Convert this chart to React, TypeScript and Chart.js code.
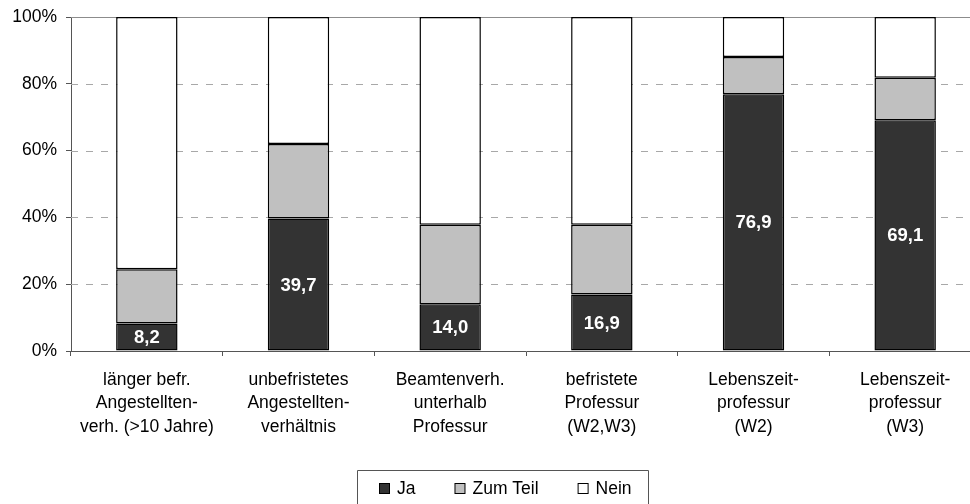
import React, { useEffect, useRef } from "react";
import { Chart, registerables } from "chart.js";

Chart.register(...registerables);

const categories: string[][] = [
  ["länger befr.", "Angestellten-", "verh. (>10 Jahre)"],
  ["unbefristetes", "Angestellten-", "verhältnis"],
  ["Beamtenverh.", "unterhalb", "Professur"],
  ["befristete", "Professur", "(W2,W3)"],
  ["Lebenszeit-", "professur", "(W2)"],
  ["Lebenszeit-", "professur", "(W3)"],
];
const seriesNames = ["Ja", "Zum Teil", "Nein"];
const ja = [8.2, 39.7, 14.0, 16.9, 76.9, 69.1];
const zumTeil = [16.3, 22.3, 23.8, 20.9, 11.1, 12.7];
const nein = [75.5, 38.0, 62.2, 62.2, 12.0, 18.2];
const yMax = 100;
const yStep = 20;

const FONT = "'Liberation Sans', Arial, Helvetica, sans-serif";
const COLORS = ["#333333", "#c0c0c0", "#ffffff"];

const gridPlugin = {
  id: "customGrid",
  beforeDatasetsDraw(chart: any) {
    const { ctx, chartArea, scales } = chart;
    const y = scales.y;
    ctx.save();
    y.ticks.forEach((t: any) => {
      if (t.value === 0) return;
      const py = Math.round(y.getPixelForValue(t.value)) + 0.5;
      ctx.beginPath();
      ctx.lineWidth = 1;
      if (t.value === yMax) {
        ctx.setLineDash([]);
        ctx.strokeStyle = "#8c8c8c";
      } else {
        ctx.setLineDash([7, 8]);
        ctx.strokeStyle = "#a8a8a8";
      }
      ctx.moveTo(chartArea.left, py);
      ctx.lineTo(chartArea.right, py);
      ctx.stroke();
    });
    ctx.restore();
  },
};

const labelPlugin = {
  id: "jaLabels",
  afterDatasetsDraw(chart: any) {
    const { ctx } = chart;
    const meta = chart.getDatasetMeta(0);
    const data = chart.data.datasets[0].data as number[];
    ctx.save();
    ctx.font = `bold 18.5px ${FONT}`;
    ctx.fillStyle = "#ffffff";
    ctx.textAlign = "center";
    ctx.textBaseline = "middle";
    meta.data.forEach((el: any, i: number) => {
      const cy = (el.y + el.base) / 2;
      ctx.fillText(data[i].toFixed(1).replace(".", ","), el.x, cy + 1);
    });
    ctx.restore();
  },
};

const legendPlugin = {
  id: "boxLegend",
  afterDraw(chart: any) {
    const { ctx } = chart;
    const ds = chart.data.datasets;
    ctx.save();
    ctx.font = `17.5px ${FONT}`;
    ctx.textBaseline = "middle";
    ctx.textAlign = "left";
    const boxLeft = 357;
    const boxTop = 470.5;
    const boxRight = 648;
    ctx.strokeStyle = "#555555";
    ctx.lineWidth = 1;
    ctx.beginPath();
    ctx.moveTo(boxLeft + 0.5, 520);
    ctx.lineTo(boxLeft + 0.5, boxTop);
    ctx.lineTo(boxRight + 0.5, boxTop);
    ctx.lineTo(boxRight + 0.5, 520);
    ctx.stroke();
    let x = 379;
    const cy = 489;
    ds.forEach((d: any) => {
      ctx.fillStyle = d.backgroundColor;
      ctx.fillRect(x + 0.5, cy - 5.5, 10, 10);
      ctx.strokeStyle = "#000000";
      ctx.lineWidth = 1;
      ctx.strokeRect(x + 0.5, cy - 5.5, 10, 10);
      ctx.fillStyle = "#000000";
      ctx.fillText(d.label, x + 18, cy);
      const w = ctx.measureText(d.label).width;
      x += 18 + w + 39;
    });
    ctx.restore();
  },
};

export default function App() {
  const ref = useRef<HTMLCanvasElement | null>(null);

  useEffect(() => {
    if (!ref.current) return;
    const values = [ja, zumTeil, nein];
    const chart = new Chart(ref.current, {
      type: "bar",
      data: {
        labels: categories,
        datasets: seriesNames.map((name, i) => ({
          label: name,
          data: values[i],
          backgroundColor: COLORS[i],
          borderColor: "#000000",
          borderWidth: 1.5,
          borderSkipped: false,
          barPercentage: 0.405,
          categoryPercentage: 1,
        })),
      },
      options: {
        responsive: false,
        animation: false,
        devicePixelRatio: 1,
        layout: { padding: { top: 17, left: 0, right: 0, bottom: 0 } },
        plugins: {
          legend: { display: false },
          tooltip: { enabled: false },
        },
        scales: {
          x: {
            stacked: true,
            afterFit: (s: any) => {
              s.height = 153;
            },
            grid: {
              drawOnChartArea: false,
              drawTicks: true,
              tickLength: 5,
              tickColor: "#555555",
              offset: true,
            },
            border: { display: true, color: "#555555", width: 1 },
            ticks: {
              color: "#000000",
              font: { family: FONT, size: 17.5, lineHeight: 1.35 },
              padding: 12,
              maxRotation: 0,
              autoSkip: false,
            },
          },
          y: {
            stacked: true,
            min: 0,
            max: yMax,
            afterFit: (s: any) => {
              s.width = 71;
              s.paddingTop = 0;
              s.paddingBottom = 0;
            },
            grid: {
              drawOnChartArea: false,
              drawTicks: true,
              tickLength: 5,
              tickColor: "#555555",
            },
            border: { display: true, color: "#555555", width: 1 },
            ticks: {
              stepSize: yStep,
              color: "#000000",
              font: { family: FONT, size: 17.5 },
              padding: 9,
              callback: (v: any) => `${v}%`,
            },
          },
        },
      },
      plugins: [gridPlugin, labelPlugin, legendPlugin],
    });
    return () => chart.destroy();
  }, []);

  return (
    <div
      style={{
        position: "fixed",
        left: 0,
        top: 0,
        width: 970,
        height: 504,
        overflow: "hidden",
        background: "#ffffff",
      }}
    >
      <canvas
        ref={ref}
        width={981}
        height={504}
        style={{ display: "block", width: 981, height: 504 }}
      />
    </div>
  );
}
